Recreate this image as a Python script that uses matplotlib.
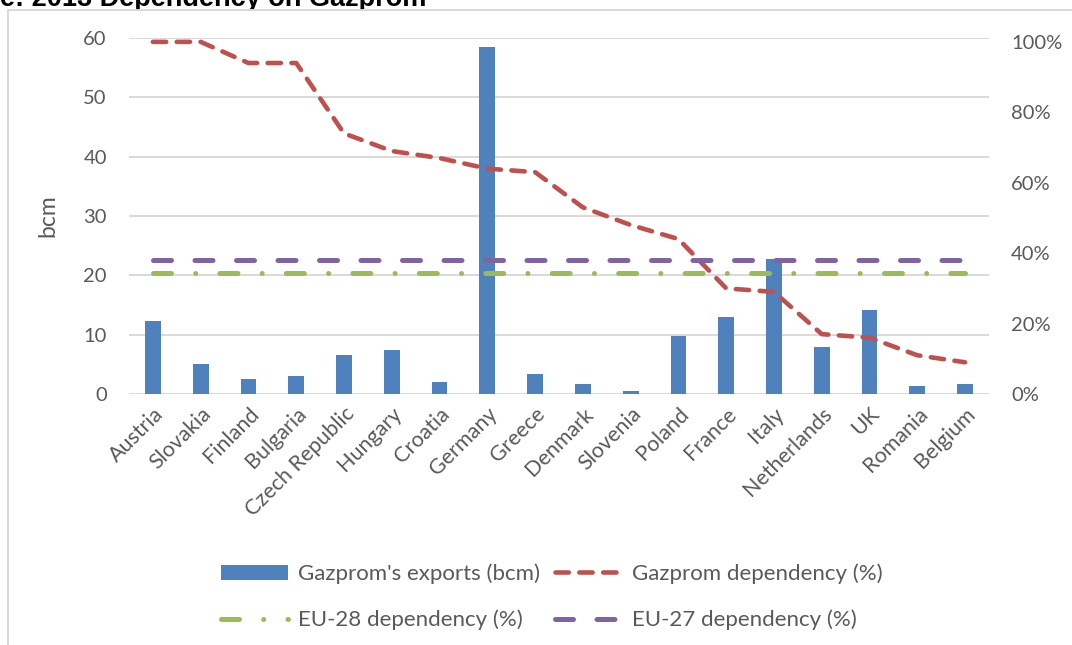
import numpy as np
import matplotlib.pyplot as plt
from matplotlib.patches import Rectangle
from matplotlib.ticker import PercentFormatter

countries = ["Austria", "Slovakia", "Finland", "Bulgaria", "Czech Republic", "Hungary",
             "Croatia", "Germany", "Greece", "Denmark", "Slovenia", "Poland", "France",
             "Italy", "Netherlands", "UK", "Romania", "Belgium"]
exports_bcm = [12.3, 5.1, 2.6, 3.1, 6.5, 7.4, 2.0, 58.5, 3.3, 1.7, 0.5, 9.8, 12.9,
               22.7, 7.9, 14.2, 1.3, 1.7]
gazprom_dep = [1.00, 1.00, 0.94, 0.94, 0.74, 0.69, 0.67, 0.64, 0.63, 0.53, 0.48, 0.44,
               0.30, 0.29, 0.17, 0.16, 0.11, 0.09]
eu28_dep = 0.343
eu27_dep = 0.381

BLUE = "#4F81BD"
RED = "#C0504D"
GREEN = "#9BBB59"
PURPLE = "#8064A2"
GREY_TXT = "#595959"
GRID = "#D9D9D9"

plt.rcParams['font.family'] = ['Lato', 'DejaVu Sans']
FS = 14.5

W, H = 1072, 645
fig = plt.figure(figsize=(W / 100, H / 100), dpi=100)

# cut-off caption above the chart box
fig.text(0, (H - 6.5) / H, "e: 2013 Dependency on Gazprom", fontsize=19.5, fontweight="bold",
         family="Liberation Sans", va="baseline", ha="left", zorder=-2)
fig.patches.append(Rectangle((8 / W, -0.1), 1.2, (H - 9.5) / H + 0.1, transform=fig.transFigure,
                             facecolor="white", edgecolor=GRID, lw=1.4, zorder=-1))

ax = fig.add_axes([129 / W, (H - 394) / H, 860 / W, 356 / H])
ax.patch.set_visible(False)
x = np.arange(len(countries))
bars = ax.bar(x, exports_bcm, width=0.33, color=BLUE, label="Gazprom's exports (bcm)", zorder=2)
ax.set_xlim(-0.5, len(countries) - 0.5)
ax.set_ylim(0, 60)
ax.set_yticks(range(0, 61, 10))
ax.grid(axis="y", color=GRID, lw=1.4, zorder=0)
ax.set_axisbelow(True)
for s in ax.spines.values():
    s.set_visible(False)
ax.tick_params(length=0, labelsize=FS, labelcolor=GREY_TXT, pad=16)
ax.tick_params(axis="x", pad=7, labelsize=15.5)
ax.set_xticks(x)
ax.set_xticklabels(countries, rotation=45, ha="right", va="top", rotation_mode="anchor")
ax.set_ylabel("bcm", fontsize=16.5, color=GREY_TXT)
ax.yaxis.set_label_coords((58 - 129) / 860, (394 - 216) / 356)

ax2 = ax.twinx()
ax2.set_ylim(0, 1.011)
ax2.set_yticks(np.arange(0, 1.01, 0.2))
ax2.yaxis.set_major_formatter(PercentFormatter(1.0, decimals=0))
for s in ax2.spines.values():
    s.set_visible(False)
ax2.tick_params(length=0, labelsize=FS, labelcolor=GREY_TXT, pad=16)

l1, = ax2.plot(x, gazprom_dep, color=RED, lw=3.3, dash_capstyle="round",
               solid_capstyle="round", label="Gazprom dependency (%)")
l1.set_dashes((2.9, 2.3))
l2, = ax2.plot(x, [eu28_dep] * len(x), color=GREEN, lw=3.6, dash_capstyle="round",
               label="EU-28 dependency (%)")
l2.set_dashes((3.6, 4.84, 0.01, 4.84))
l3, = ax2.plot(x, [eu27_dep] * len(x), color=PURPLE, lw=3.6, dash_capstyle="round",
               label="EU-27 dependency (%)")
l3.set_dashes((3.6, 4.7))

# matplotlib fills the legend column by column
fig.legend([bars, l2, l1, l3],
           ["Gazprom's exports (bcm)", "EU-28 dependency (%)", "Gazprom dependency (%)",
            "EU-27 dependency (%)"],
           ncol=2, loc="center", bbox_to_anchor=(552 / W, 1 - 597 / H), frameon=False,
           fontsize=16, labelcolor=GREY_TXT, handlelength=3.0, handletextpad=0.45,
           columnspacing=0.7, labelspacing=1.15)

fig.savefig("out.png", dpi=100)
